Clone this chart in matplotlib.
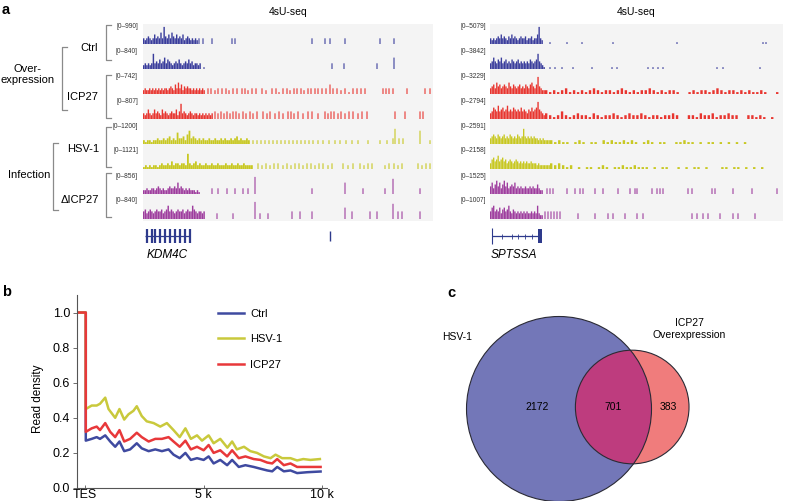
import matplotlib.pyplot as plt
import matplotlib.patches as mpatches
import numpy as np

plt.rcParams['font.family'] = ['Liberation Sans', 'DejaVu Sans']

W, H = 785, 501

# ---------------- panel a: 4sU-seq coverage tracks ----------------
track_colors = ['#3a3d9c', '#3a3d9c', '#e8352f', '#e8352f',
                '#c8c822', '#c8c822', '#9e3d9e', '#9e3d9e']
kdm_ranges = ['[0–990]', '[0–840]', '[0–742]', '[0–807]',
              '[0–1200]', '[0–1121]', '[0–856]', '[0–840]']
spt_ranges = ['[0–5079]', '[0–3842]', '[0–3229]', '[0–2794]',
              '[0–2591]', '[0–2158]', '[0–1525]', '[0–1007]']

# KDM4C window (0-290), heights in tenths of a track
kdm_dense_end = [55, 58, 62, 70, 107, 110, 57, 62]
kdm_dense = [
    [3, 2, 3, 4, 3, 2, 3, 5, 3, 4, 3, 6, 3, 9, 4, 3, 5, 3, 6, 4, 3, 5, 3, 4, 3, 5, 2, 3, 4, 3, 2, 3, 2, 3, 2],
    [2, 3, 2, 3, 2, 3, 8, 3, 4, 3, 5, 3, 4, 6, 3, 5, 4, 3, 2, 3, 4, 3, 5, 3, 2, 3, 4, 3, 5, 3, 4, 2, 3, 3, 2, 3],
    [2, 3, 2, 2, 3, 2, 3, 2, 3, 2, 3, 2, 3, 2, 3, 3, 2, 3, 4, 3, 2, 5, 3, 6, 3, 5, 2, 4, 3, 4, 3, 3, 2, 3, 2, 3, 2, 3, 2, 3, 2],
    [3, 2, 3, 5, 3, 2, 3, 5, 3, 4, 3, 2, 5, 3, 4, 3, 2, 3, 4, 3, 3, 5, 2, 4, 8, 3, 4, 3, 2, 3, 4, 3, 2, 3, 3, 2, 3, 2, 3, 2, 3, 2, 3, 2, 3],
    [2, 1, 2, 2, 1, 2, 2, 3, 2, 2, 3, 2, 3, 4, 2, 3, 2, 6, 3, 3, 4, 2, 5, 7, 3, 4, 3, 2, 3, 2, 3, 2, 2, 3, 2, 2, 3, 2, 2, 3, 2, 3, 2, 2, 3, 2, 3, 4, 2, 3, 2, 2, 3, 2],
    [1, 2, 1, 2, 1, 2, 2, 1, 2, 3, 2, 2, 3, 2, 4, 2, 3, 3, 2, 3, 3, 2, 8, 3, 2, 3, 4, 2, 3, 2, 2, 3, 2, 2, 3, 2, 2, 3, 2, 2, 2, 3, 2, 2, 3, 2, 2, 3, 2, 2, 3, 2, 2, 2, 2],
    [2, 2, 3, 2, 2, 3, 3, 2, 3, 4, 3, 2, 3, 2, 2, 3, 4, 3, 3, 4, 3, 6, 3, 4, 3, 2, 3, 2, 3, 2, 2, 2, 1, 2, 1],
    [4, 5, 3, 4, 5, 4, 3, 4, 5, 4, 4, 5, 3, 4, 5, 7, 4, 5, 4, 3, 4, 5, 4, 4, 5, 3, 4, 5, 4, 4, 7, 5, 4, 3, 4, 4, 3, 4],
]
kdm_sparse_pos = [
    [56, 60, 69, 89, 92, 169, 182, 187, 202, 237, 251],
    [61, 189, 201, 234, 251],
    [65, 68, 72, 75, 79, 83, 86, 90, 94, 99, 102, 105, 109, 113, 119, 123, 129, 133, 136, 140, 144, 147, 151, 154, 158,
     161, 165, 168, 172, 175, 179, 183, 187, 190, 194, 198, 202, 206, 210, 214, 218, 222, 240, 243, 246, 250, 264, 282, 287],
    [72, 75, 78, 81, 84, 87, 90, 93, 96, 100, 103, 107, 110, 114, 120, 124, 127, 132, 136, 140, 145, 148, 151, 155, 160,
     165, 169, 175, 182, 185, 188, 191, 195, 198, 202, 206, 210, 215, 219, 224, 252, 262, 277, 280],
    [110, 114, 118, 122, 126, 130, 134, 138, 142, 146, 150, 154, 158, 162, 166, 170, 175, 180, 186, 192, 197, 203, 209,
     215, 225, 237, 244, 250, 252, 256, 260, 277, 287],
    [115, 119, 123, 127, 131, 135, 140, 144, 148, 152, 156, 160, 164, 168, 172, 176, 180, 185, 189, 200, 205, 210, 217,
     221, 225, 229, 242, 246, 251, 255, 259, 275, 279, 283, 287],
    [69, 75, 84, 92, 100, 105, 112, 169, 202, 220, 242, 250, 277],
    [74, 90, 112, 117, 125, 149, 157, 169, 202, 209, 227, 234, 250, 255, 259, 277],
]
kdm_sparse_h = [
    [3, 3, 3, 3, 3, 3, 3, 3, 3, 3, 3],
    [1, 3, 3, 3, 6],
    [3, 3, 2, 3, 3, 3, 2, 3, 3, 3, 3, 2, 3, 3, 3, 2, 3, 3, 1, 3, 3, 2, 3, 3, 3, 2, 3, 3, 3, 3, 3, 3, 5, 3, 3, 2, 3, 1,
     3, 3, 3, 3, 3, 3, 3, 3, 3, 3, 3],
    [4, 3, 4, 3, 4, 3, 4, 4, 3, 4, 3, 4, 3, 4, 4, 3, 4, 3, 4, 3, 4, 4, 3, 4, 3, 4, 4, 3, 4, 3, 4, 4, 3, 4, 3, 4, 4, 3,
     4, 4, 4, 4, 4, 4],
    [2, 2, 2, 2, 2, 2, 2, 2, 2, 2, 2, 2, 2, 2, 2, 2, 2, 2, 2, 2, 2, 2, 2, 2, 2, 2, 2, 3, 8, 3, 3, 7, 2],
    [3, 2, 3, 2, 3, 3, 2, 3, 2, 3, 3, 2, 3, 3, 2, 3, 3, 2, 3, 3, 2, 3, 3, 2, 3, 3, 2, 3, 3, 2, 3, 3, 2, 3, 3],
    [3, 3, 3, 3, 3, 3, 9, 3, 6, 3, 3, 8, 3],
    [3, 3, 9, 3, 3, 4, 4, 4, 6, 4, 4, 4, 8, 4, 4, 4],
]
kdm4c_span = [2, 47]
kdm4c_exons = [4, 9, 12, 17, 22, 27, 32, 37, 42, 47]
kdm_other_feature = [187]

# SPTSSA window (0-293)
spt_dense_end = [53, 55, 55, 55, 60, 60, 53, 53]
spt_dense = [
    [3, 2, 3, 2, 3, 4, 3, 5, 3, 4, 3, 2, 4, 3, 5, 3, 4, 3, 2, 3, 4, 3, 3, 4, 2, 3, 3, 4, 2, 3, 3, 5, 9, 3, 2],
    [3, 4, 6, 4, 3, 5, 4, 6, 3, 4, 5, 3, 4, 3, 5, 4, 3, 4, 5, 3, 4, 3, 4, 3, 4, 3, 5, 4, 3, 4, 5, 8, 4, 3, 2, 1],
    [3, 4, 5, 3, 6, 4, 5, 3, 4, 5, 4, 3, 6, 4, 3, 5, 4, 3, 4, 5, 3, 4, 3, 5, 4, 3, 5, 6, 4, 3, 5, 9, 4, 3, 2, 2],
    [3, 4, 6, 5, 4, 7, 4, 5, 6, 4, 5, 7, 4, 5, 4, 6, 5, 4, 5, 4, 6, 4, 5, 4, 3, 5, 4, 6, 4, 5, 6, 9, 5, 4, 3, 2],
    [3, 4, 5, 4, 3, 5, 4, 3, 4, 5, 3, 4, 3, 5, 4, 3, 4, 3, 5, 4, 3, 4, 8, 4, 3, 4, 3, 4, 3, 4, 3, 3, 2, 3, 2, 3, 2, 2, 2, 2],
    [3, 5, 6, 4, 5, 7, 4, 5, 6, 4, 5, 3, 4, 5, 4, 3, 4, 5, 4, 3, 4, 3, 4, 3, 4, 3, 3, 4, 3, 3, 3, 2, 3, 2, 2, 2, 2, 2, 2, 2],
    [4, 6, 3, 5, 7, 4, 6, 3, 5, 7, 4, 6, 3, 4, 5, 4, 6, 3, 4, 3, 4, 3, 3, 4, 3, 3, 4, 3, 4, 3, 3, 5, 3, 2, 2],
    [4, 6, 7, 4, 5, 4, 6, 3, 5, 6, 4, 5, 7, 4, 3, 5, 4, 3, 4, 3, 4, 3, 4, 3, 4, 3, 3, 4, 3, 4, 3, 7, 3, 2, 2],
]
spt_tail_end = [0, 0, 290, 285, 270, 275, 0, 0]
spt_tail = [
    [],
    [],
    [2, 1, 2, 1, 2, 3, 1, 2, 1, 2, 1, 2, 3, 2, 1, 2, 2, 1, 2, 3, 2, 1, 2, 1, 2, 2, 3, 2, 1, 2, 1, 2, 2, 1, 0, 0, 1, 2,
     1, 2, 2, 1, 2, 3, 2, 1, 2, 2, 1, 2, 1, 2, 1, 1, 2, 1, 0, 0, 1],
    [3, 2, 1, 2, 4, 2, 1, 2, 3, 2, 2, 1, 3, 2, 1, 2, 2, 3, 2, 1, 2, 3, 2, 2, 3, 2, 1, 2, 2, 1, 2, 2, 3, 2, 0, 0, 2, 2,
     1, 3, 2, 2, 3, 1, 2, 2, 3, 2, 2, 0, 0, 2, 2, 1, 2, 1, 0, 1],
    [2, 1, 2, 1, 1, 0, 1, 2, 1, 0, 1, 1, 0, 2, 1, 2, 1, 1, 2, 1, 2, 1, 0, 1, 2, 1, 0, 1, 1, 0, 0, 1, 1, 2, 1, 1, 0, 1,
     0, 1, 1, 0, 1, 0, 1, 0, 1, 0, 1, 0, 0, 0],
    [3, 2, 3, 2, 1, 2, 0, 1, 0, 1, 1, 0, 1, 2, 1, 0, 1, 1, 2, 1, 1, 2, 1, 1, 1, 0, 1, 0, 1, 1, 0, 0, 1, 0, 1, 0, 1, 1,
     0, 1, 0, 0, 0, 1, 1, 0, 1, 1, 0, 1, 0, 1, 0, 1],
    [],
    [],
]
spt_sparse_pos = [
    [60, 77, 92, 123, 187, 273, 276],
    [60, 65, 72, 83, 102, 122, 127, 158, 163, 168, 173, 227, 233, 270],
    [],
    [],
    [],
    [],
    [57, 60, 63, 77, 85, 90, 93, 105, 113, 128, 140, 145, 147, 162, 167, 170, 173, 198, 202, 222, 225, 243, 262, 287],
    [55, 58, 61, 64, 67, 70, 88, 105, 118, 123, 135, 147, 153, 202, 207, 213, 218, 230, 243, 248, 265],
]
spt_sparse_h = [
    [1, 1, 1, 1, 1, 1, 1],
    [1, 1, 1, 1, 1, 1, 1, 1, 1, 1, 1, 1, 1, 1],
    [],
    [],
    [],
    [],
    [3, 3, 3, 3, 3, 3, 3, 3, 3, 3, 3, 3, 3, 3, 3, 3, 3, 3, 3, 3, 3, 3, 3, 3],
    [4, 4, 4, 4, 4, 4, 3, 3, 3, 3, 3, 3, 3, 3, 3, 3, 3, 3, 3, 3, 3],
]
sptssa_span = [2, 50]
sptssa_introns = [12, 22, 28, 35, 42]
sptssa_block = [48, 52]

# ---------------- panel b: read density after TES ----------------
x_ctrl = [-0.35, 0.03, 0.03, 0.28, 0.49, 0.63, 0.85, 1.06, 1.27, 1.45, 1.65, 1.90, 2.18, 2.39, 2.68, 2.96,
          3.24, 3.52, 3.73, 3.99, 4.23, 4.46, 4.72, 5.00, 5.21, 5.42, 5.70, 5.99, 6.20, 6.48, 6.76,
          7.11, 7.39, 7.68, 7.89, 8.10, 8.38, 8.66, 8.94, 9.37, 9.93]
ctrl = [1.0, 1.0, 0.27, 0.28, 0.29, 0.28, 0.30, 0.265, 0.235, 0.265, 0.21, 0.22, 0.255, 0.226, 0.21, 0.22,
        0.21, 0.22, 0.19, 0.17, 0.20, 0.16, 0.17, 0.16, 0.18, 0.14, 0.16, 0.13, 0.16, 0.12, 0.13,
        0.12, 0.11, 0.10, 0.095, 0.12, 0.095, 0.10, 0.085, 0.09, 0.094]
icp27 = [1.0, 1.0, 0.32, 0.34, 0.35, 0.33, 0.37, 0.32, 0.29, 0.33, 0.265, 0.28, 0.315, 0.29, 0.265, 0.28,
         0.28, 0.29, 0.265, 0.235, 0.27, 0.22, 0.235, 0.215, 0.245, 0.20, 0.215, 0.18, 0.215, 0.17, 0.18,
         0.165, 0.16, 0.145, 0.14, 0.165, 0.13, 0.14, 0.12, 0.12, 0.12]
x_hsv = [-0.35, 0.03, 0.03, 0.28, 0.49, 0.63, 0.85, 0.99, 1.27, 1.45, 1.65, 1.83, 2.04, 2.18, 2.39, 2.60,
         2.89, 3.17, 3.45, 3.73, 3.99, 4.23, 4.46, 4.72, 4.93, 5.21, 5.42, 5.70, 6.00, 6.20, 6.40,
         6.70, 6.97, 7.25, 7.54, 7.82, 8.03, 8.31, 8.66, 8.94, 9.20, 9.50, 9.90]
hsv = [1.0, 1.0, 0.45, 0.47, 0.47, 0.48, 0.515, 0.45, 0.40, 0.45, 0.39, 0.42, 0.44, 0.466, 0.41, 0.38,
       0.37, 0.35, 0.37, 0.33, 0.29, 0.34, 0.28, 0.30, 0.27, 0.30, 0.255, 0.28, 0.23, 0.265, 0.22,
       0.235, 0.21, 0.20, 0.18, 0.17, 0.19, 0.17, 0.17, 0.157, 0.165, 0.16, 0.165]

# ---------------- panel c: Venn counts ----------------
hsv_only, both, icp_only = 2172, 701, 383


def px_box(x0, y0, x1, y1):
    return [x0 / W, 1 - y1 / H, (x1 - x0) / W, (y1 - y0) / H]


fig = plt.figure(figsize=(W / 100, H / 100), dpi=100)


def draw_window(box, width, dense_end, dense, sparse_pos, sparse_h, tails=None, tail_end=None):
    ax = fig.add_axes(px_box(*box))
    ax.set_xlim(0, width)
    ax.set_ylim(-29, 197)
    ax.axis('off')
    ax.axhspan(0, 197, color='#f4f4f4', lw=0, zorder=0)
    for k in range(8):
        base = 177 - 25 * k
        col = track_colors[k]
        h = np.array(dense[k], dtype=float)
        step = dense_end[k] / len(h)
        ax.bar(np.arange(len(h)) * step, h * 1.9, width=step * 0.9, bottom=base,
               align='edge', color=col, lw=0, snap=False)
        if tails is not None and tails[k]:
            t = np.array(tails[k], dtype=float)
            tstep = (tail_end[k] - dense_end[k]) / len(t)
            ax.bar(dense_end[k] + np.arange(len(t)) * tstep, t * 1.9, width=tstep * 0.6,
                   bottom=base, align='edge', color=col, lw=0, snap=False)
        n = min(len(sparse_pos[k]), len(sparse_h[k]))
        if n:
            ax.bar(sparse_pos[k][:n], np.array(sparse_h[k][:n]) * 1.9, width=1.1,
                   bottom=base, color=col, lw=0, snap=False)
    return ax


gene_col = '#2e3a8c'
ax_l = draw_window((143, 24, 433, 250), 290, kdm_dense_end, kdm_dense, kdm_sparse_pos, kdm_sparse_h)
ax_l.hlines(-15, kdm4c_span[0], kdm4c_span[1], color=gene_col, lw=0.9)
ax_l.vlines(kdm4c_exons, -22, -8, color=gene_col, lw=1.6)
ax_l.vlines(kdm_other_feature, -20, -10, color=gene_col, lw=1.0)

ax_r = draw_window((490, 24, 783, 250), 293, spt_dense_end, spt_dense, spt_sparse_pos, spt_sparse_h,
                   spt_tail, spt_tail_end)
ax_r.hlines(-15, sptssa_span[0], sptssa_span[1], color=gene_col, lw=0.9)
ax_r.vlines(sptssa_span[0], -23, -7, color=gene_col, lw=0.8)
ax_r.vlines(sptssa_introns, -17.5, -12.5, color=gene_col, lw=0.6)
ax_r.bar(sptssa_block[0], 14, width=sptssa_block[1] - sptssa_block[0], bottom=-22,
         align='edge', color=gene_col, lw=0)

# ---------------- panel b axes ----------------
axb = fig.add_axes(px_box(77, 295, 327, 488))
axb.plot(x_ctrl, ctrl, color='#3f4aa0', lw=1.8, label='Ctrl')
axb.plot(x_hsv, hsv, color='#c9c93c', lw=1.8, label='HSV-1')
axb.plot(x_ctrl, icp27, color='#e8383a', lw=1.8, label='ICP27')
axb.set_xlim(-0.34, 10.2)
axb.set_ylim(0, 1.1)
axb.set_xticks([0, 5, 10], ['TES', '5 k', '10 k'])
axb.set_yticks([0, 0.2, 0.4, 0.6, 0.8, 1.0])
for s in ['top', 'right']:
    axb.spines[s].set_visible(False)
for s in ['left', 'bottom']:
    axb.spines[s].set_color('#555555')
    axb.spines[s].set_linewidth(0.8)
axb.tick_params(labelsize=9, length=3, width=0.6, color='#555555', pad=2)
axb.tick_params(axis='x', direction='in', length=2, pad=0.5)
axb.set_ylabel('Read density', fontsize=8.5)
axb.yaxis.set_label_coords(-0.13, 0.46)
axb.legend(loc='upper left', bbox_to_anchor=(218 / W, 1 - 309 / H), bbox_transform=fig.transFigure,
           frameon=False, fontsize=8, handlelength=2.3, labelspacing=1.38, borderpad=0,
           borderaxespad=0, handletextpad=0.6)

# ---------------- overlay: labels, brackets, Venn ----------------
ov = fig.add_axes([0, 0, 1, 1])
ov.set_xlim(0, W)
ov.set_ylim(H, 0)
ov.axis('off')

ov.text(2, 10, 'a', fontsize=10.5, fontweight='bold', va='center')
ov.text(2, 292, 'b', fontsize=10.5, fontweight='bold', va='center')
ov.text(447, 293, 'c', fontsize=10.5, fontweight='bold', va='center')

ov.text(288, 12, '4sU-seq', fontsize=7.5, ha='center', va='center')
ov.text(636, 12, '4sU-seq', fontsize=7.5, ha='center', va='center')

for k in range(8):
    y = 26 + 25 * k
    ov.text(138, y, kdm_ranges[k], fontsize=4.8, ha='right', va='center', color='#333333')
    ov.text(486, y, spt_ranges[k], fontsize=4.8, ha='right', va='center', color='#333333')

br_col = '#8a8a8a'


def bracket(x, y0, y1, tick=5):
    ov.plot([x + tick, x, x, x + tick], [y0, y0, y1, y1], color=br_col, lw=0.9)


bracket(106, 25, 60)
bracket(106, 75, 118)
bracket(106, 127, 167)
bracket(106, 173, 217)
bracket(62, 47, 110)
bracket(53, 143, 210)

ov.text(98, 48, 'Ctrl', fontsize=8, ha='right', va='center')
ov.text(98, 97, 'ICP27', fontsize=8, ha='right', va='center')
ov.text(99, 149, 'HSV-1', fontsize=8, ha='right', va='center')
ov.text(99, 200, 'ΔICP27', fontsize=8, ha='right', va='center')
ov.text(28, 74.5, 'Over-\nexpression', fontsize=8, ha='center', va='center', multialignment='center')
ov.text(29, 175, 'Infection', fontsize=8, ha='center', va='center')

ov.text(147, 255, 'KDM4C', fontsize=8.5, style='italic', ha='left', va='center')
ov.text(491, 255, 'SPTSSA', fontsize=8.5, style='italic', ha='left', va='center')


def lens_area(d, r1, r2):
    if d >= r1 + r2:
        return 0.0
    if d <= abs(r1 - r2):
        return np.pi * min(r1, r2) ** 2
    a1 = r1 ** 2 * np.arccos((d * d + r1 * r1 - r2 * r2) / (2 * d * r1))
    a2 = r2 ** 2 * np.arccos((d * d + r2 * r2 - r1 * r1) / (2 * d * r2))
    a3 = 0.5 * np.sqrt((-d + r1 + r2) * (d + r1 - r2) * (d - r1 + r2) * (d + r1 + r2))
    return a1 + a2 - a3


scale = 92.5 / np.sqrt(hsv_only + both)
r1 = scale * np.sqrt(hsv_only + both)
r2 = scale * np.sqrt(icp_only + both)
target = np.pi * scale ** 2 * both
lo, hi = abs(r1 - r2), r1 + r2
for _ in range(60):
    mid = (lo + hi) / 2
    if lens_area(mid, r1, r2) > target:
        lo = mid
    else:
        hi = mid
d = (lo + hi) / 2

c1 = (559, 409)
c2 = (c1[0] + d, 407)
big = mpatches.Circle(c1, r1, facecolor='#7377b8', edgecolor='none')
small = mpatches.Circle(c2, r2, facecolor='#f07c7c', edgecolor='none')
ov.add_patch(big)
ov.add_patch(small)
lens = mpatches.Circle(c2, r2, facecolor='#be3c7e', edgecolor='none')
ov.add_patch(lens)
lens.set_clip_path(big)
ov.add_patch(mpatches.Circle(c1, r1, facecolor='none', edgecolor='#2a2a35', lw=0.8))
ov.add_patch(mpatches.Circle(c2, r2, facecolor='none', edgecolor='#2a2a35', lw=0.8))

ov.text(c1[0] - 0.24 * r1, c1[1] - 2, str(hsv_only), fontsize=7.5, ha='center', va='center')
ov.text((c2[0] - r2 + c1[0] + r1) / 2, c1[1] - 2, str(both), fontsize=7.5, ha='center', va='center')
ov.text((c1[0] + r1 + c2[0] + r2) / 2 - 2, c1[1] - 2, str(icp_only), fontsize=7.5, ha='center', va='center')
ov.text(442, 337, 'HSV-1', fontsize=7.5, ha='left', va='center')
ov.text(689, 329, 'ICP27\nOverexpression', fontsize=7.5, ha='center', va='center', multialignment='center')

fig.savefig('out.png', dpi=100)
